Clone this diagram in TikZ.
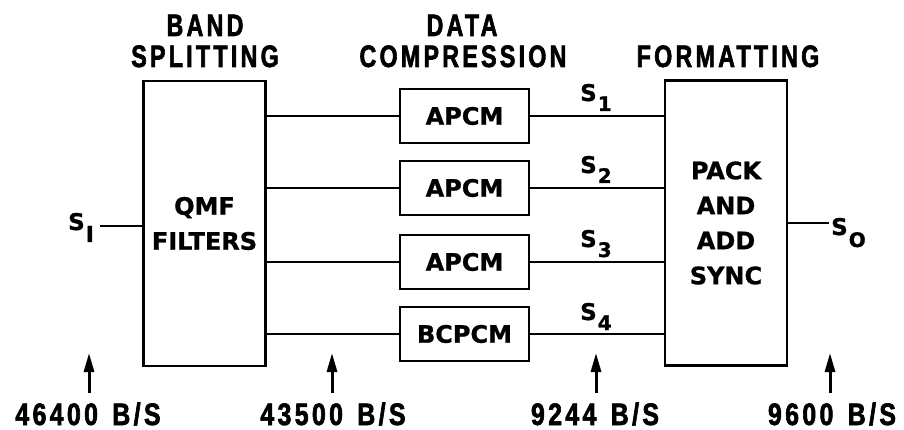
\documentclass[tikz,border=0pt]{standalone}
\usepackage{fontspec}
\usetikzlibrary{arrows.meta}
\newfontfamily\hdfont[FakeStretch=0.75,LetterSpace=10.5,FakeBold=2]{Liberation Sans}
\newfontfamily\ratefont[FakeStretch=0.8,LetterSpace=11,WordSpace=1.4,FakeBold=2]{Liberation Sans}
\newfontfamily\boxfont[FakeBold=1]{DejaVu Sans}
\newcommand\sgl[3]{{\fontsize{23}{23}\selectfont S}\hspace{1pt}\raisebox{-#3pt}{\fontsize{#2}{#2}\selectfont #1}}
\begin{document}
\begin{tikzpicture}[x=1pt,y=-1pt,
  blk/.style={draw, line width=2.5pt, inner sep=0pt, align=center,
    font=\boxfont\bfseries\fontsize{24}{35}\selectfont},
  bigbox/.style={blk, minimum width=122pt, minimum height=285pt},
  cmpbox/.style={blk, minimum width=129pt, minimum height=54pt},
  wire/.style={line width=2.5pt},
  hdr/.style={font=\hdfont\bfseries\fontsize{31}{31}\selectfont, inner sep=0pt, anchor=base},
  rate/.style={font=\ratefont\bfseries\fontsize{31}{31}\selectfont, inner sep=0pt, anchor=base},
  siglab/.style={font=\boxfont\bfseries, inner sep=0pt, anchor=base west},
  uparrow/.style={line width=3pt, -{Triangle[width=10pt,length=19pt]}}
]
\useasboundingbox (0,0) rectangle (904,430);

% headers
\node[hdr] (h1a) at (205,36) {BAND};
\node[hdr] (h1b) at (205,67) {SPLITTING};
\node[hdr] (h2a) at (462,36) {DATA};
\node[hdr] (h2b) at (463,67) {COMPRESSION};
\node[hdr] (h3)  at (728,67) {FORMATTING};

% main blocks
\node[bigbox] (qmf) at (204.5,223.5) {QMF\\FILTERS};
\node[bigbox] (pack) at (726,223) {PACK\\AND\\ADD\\SYNC};

\node[cmpbox] (c1) at (464.5,116) {APCM};
\node[cmpbox] (c2) at (464.5,188) {APCM};
\node[cmpbox] (c3) at (464.5,262) {APCM};
\node[cmpbox] (c4) at (464.5,334) {BCPCM};

% connections
\foreach \c in {c1,c2,c3,c4}{
  \draw[wire] (qmf.east |- \c.west) -- (\c.west);
  \draw[wire] (\c.east) -- (pack.west |- \c.east);
}

% signal labels
\node[siglab] (s1) at (580,101) {\sgl{1}{20}{10}};
\node[siglab] (s2) at (580,173) {\sgl{2}{20}{10}};
\node[siglab] (s3) at (580,247) {\sgl{3}{20}{10}};
\node[siglab] (s4) at (580,320) {\sgl{4}{20}{10}};

% input / output
\coordinate (in) at (100,226);
\coordinate (out) at (829,223);
\draw[wire] (in) -- (qmf.west |- in);
\draw[wire] (pack.east |- out) -- (out);
\node[siglab] (si) at (68,230) {\sgl{I}{22}{12}};
\node[siglab] (so) at (831,235) {\sgl{O}{20}{12}};

% rates
\node[rate] (r1) at (88,425) {46400 B/S};
\node[rate] (r2) at (333,425) {43500 B/S};
\node[rate] (r3) at (595,425) {9244 B/S};
\node[rate] (r4) at (832,425) {9600 B/S};

\coordinate (a1b) at (89,393);  \coordinate (a1t) at (89,353);
\coordinate (a2b) at (332,393); \coordinate (a2t) at (332,353);
\coordinate (a3b) at (596,393); \coordinate (a3t) at (596,353);
\coordinate (a4b) at (830,393); \coordinate (a4t) at (830,353);
\draw[uparrow] (a1b) -- (a1t);
\draw[uparrow] (a2b) -- (a2t);
\draw[uparrow] (a3b) -- (a3t);
\draw[uparrow] (a4b) -- (a4t);
\end{tikzpicture}
\end{document}
